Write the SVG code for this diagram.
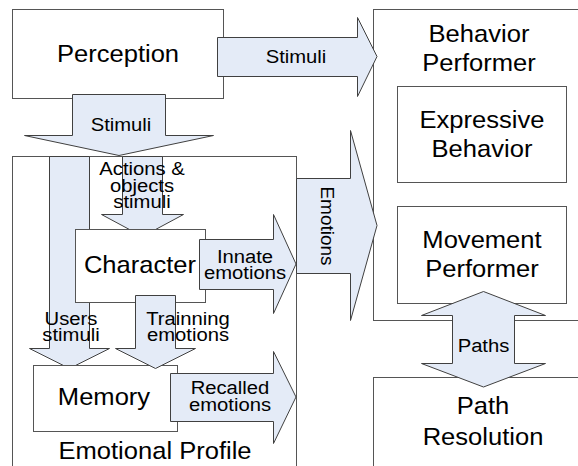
<svg xmlns="http://www.w3.org/2000/svg" width="578" height="466" viewBox="0 0 578 466">
<style>
.box{fill:#ffffff;stroke:#555555;stroke-width:1}
.arr{fill:#e4ebf7;stroke:#404040;stroke-width:1;stroke-linejoin:miter}
text{font-family:"Liberation Sans",Arial,sans-serif;fill:#000000;text-anchor:middle}
.big{font-size:24px}
.sm{font-size:19px}
</style>
<rect width="578" height="466" fill="#ffffff"/>
<g id="behavior-performer">
<rect class="box" x="373.5" y="9.5" width="215" height="311"/>
<text class="big" transform="translate(479,42) scale(1.065,1)"><tspan x="0" y="0">Behavior</tspan><tspan x="0" y="29">Performer</tspan></text>
</g>
<g id="expressive-behavior">
<rect class="box" x="397.5" y="86.5" width="169" height="96"/>
<text class="big" transform="translate(482,128) scale(1.065,1)"><tspan x="0" y="0">Expressive</tspan><tspan x="0" y="29">Behavior</tspan></text>
</g>
<g id="movement-performer">
<rect class="box" x="397.5" y="206.5" width="169" height="97"/>
<text class="big" transform="translate(482,248) scale(1.065,1)"><tspan x="0" y="0">Movement</tspan><tspan x="0" y="29">Performer</tspan></text>
</g>
<g id="path-resolution">
<rect class="box" x="373.5" y="377.5" width="215" height="100"/>
<text class="big" transform="translate(483,414) scale(1.065,1)"><tspan x="0" y="0">Path</tspan><tspan x="0" y="31">Resolution</tspan></text>
</g>
<g id="perception">
<rect class="box" x="12.5" y="9.5" width="211" height="89"/>
<text class="big" transform="translate(118,62) scale(1.065,1)">Perception</text>
</g>
<g id="emotional-profile">
<rect class="box" x="12.5" y="156.5" width="284" height="320"/>
<text class="big" transform="translate(155,459) scale(1.065,1)">Emotional Profile</text>
</g>
<g id="connectors">
<g id="stimuli-right">
<polygon class="arr" points="217.5,37.5 357.5,37.5 357.5,17.5 377,56.5 357.5,96.5 357.5,76.5 217.5,76.5"/>
<text class="sm" transform="translate(296,63) scale(1.065,1)">Stimuli</text>
</g>
<g id="stimuli-down">
<polygon class="arr" points="72.5,94.5 165.5,94.5 165.5,135.5 213.5,135.5 119,155.5 24.5,135.5 72.5,135.5"/>
<text class="sm" transform="translate(121,131) scale(1.065,1)">Stimuli</text>
</g>
<g id="users-stimuli">
<polygon class="arr" points="49.5,156.5 89.5,156.5 89.5,348.5 109.5,348.5 69.5,368.5 29.5,348.5 49.5,348.5"/>
</g>
<g id="actions-stimuli">
<polygon class="arr" points="122.5,156.5 162.5,156.5 162.5,214.5 183.5,214.5 142.5,236.5 101.5,214.5 122.5,214.5"/>
</g>
</g>
<g id="character">
<rect class="box" x="75.5" y="229.5" width="130" height="73"/>
<text class="big" transform="translate(140,273) scale(1.065,1)">Character</text>
</g>
<g id="memory">
<rect class="box" x="33.5" y="365.5" width="144" height="66"/>
<text class="big" transform="translate(104,405) scale(1.065,1)">Memory</text>
</g>
<g id="connectors-2">
<g id="innate-emotions">
<polygon class="arr" points="199.5,239.5 273.5,239.5 273.5,214.5 296,264 273.5,313.5 273.5,289.5 199.5,289.5"/>
<text class="sm" transform="translate(245,263) scale(1.065,1)"><tspan x="0" y="0">Innate</tspan><tspan x="0" y="16">emotions</tspan></text>
</g>
<g id="trainning-emotions">
<polygon class="arr" points="135.5,295.5 175.5,295.5 175.5,348.5 195.5,348.5 155.5,368.5 115.5,348.5 135.5,348.5"/>
<text class="sm" transform="translate(188,325) scale(1.065,1)"><tspan x="0" y="0">Trainning</tspan><tspan x="0" y="16">emotions</tspan></text>
</g>
<g id="recalled-emotions">
<polygon class="arr" points="170.5,373.5 273.5,373.5 273.5,351.5 296,397 273.5,443.5 273.5,421.5 170.5,421.5"/>
<text class="sm" transform="translate(230,394) scale(1.065,1)"><tspan x="0" y="0">Recalled</tspan><tspan x="0" y="16.5">emotions</tspan></text>
</g>
<g id="emotions">
<polygon class="arr" points="296.5,178.5 350.5,178.5 350.5,130.5 377,225.5 350.5,320.5 350.5,273.5 296.5,273.5"/>
<text class="sm" transform="translate(321,226) rotate(90)">Emotions</text>
</g>
<g id="paths">
<polygon class="arr" points="483.5,291.5 545.5,315.5 514.5,315.5 514.5,363.5 545.5,363.5 483.5,387 421.5,363.5 452.5,363.5 452.5,315.5 421.5,315.5"/>
<text class="sm" transform="translate(483.5,352) scale(1.065,1)">Paths</text>
</g>
<text class="sm" transform="translate(142,175) scale(1.065,1)"><tspan x="0" y="0">Actions &amp;</tspan><tspan x="0" y="16.5">objects</tspan><tspan x="0" y="33">stimuli</tspan></text>
<text class="sm" transform="translate(71,325) scale(1.065,1)"><tspan x="0" y="0">Users</tspan><tspan x="0" y="16">stimuli</tspan></text>
</g>
</svg>
